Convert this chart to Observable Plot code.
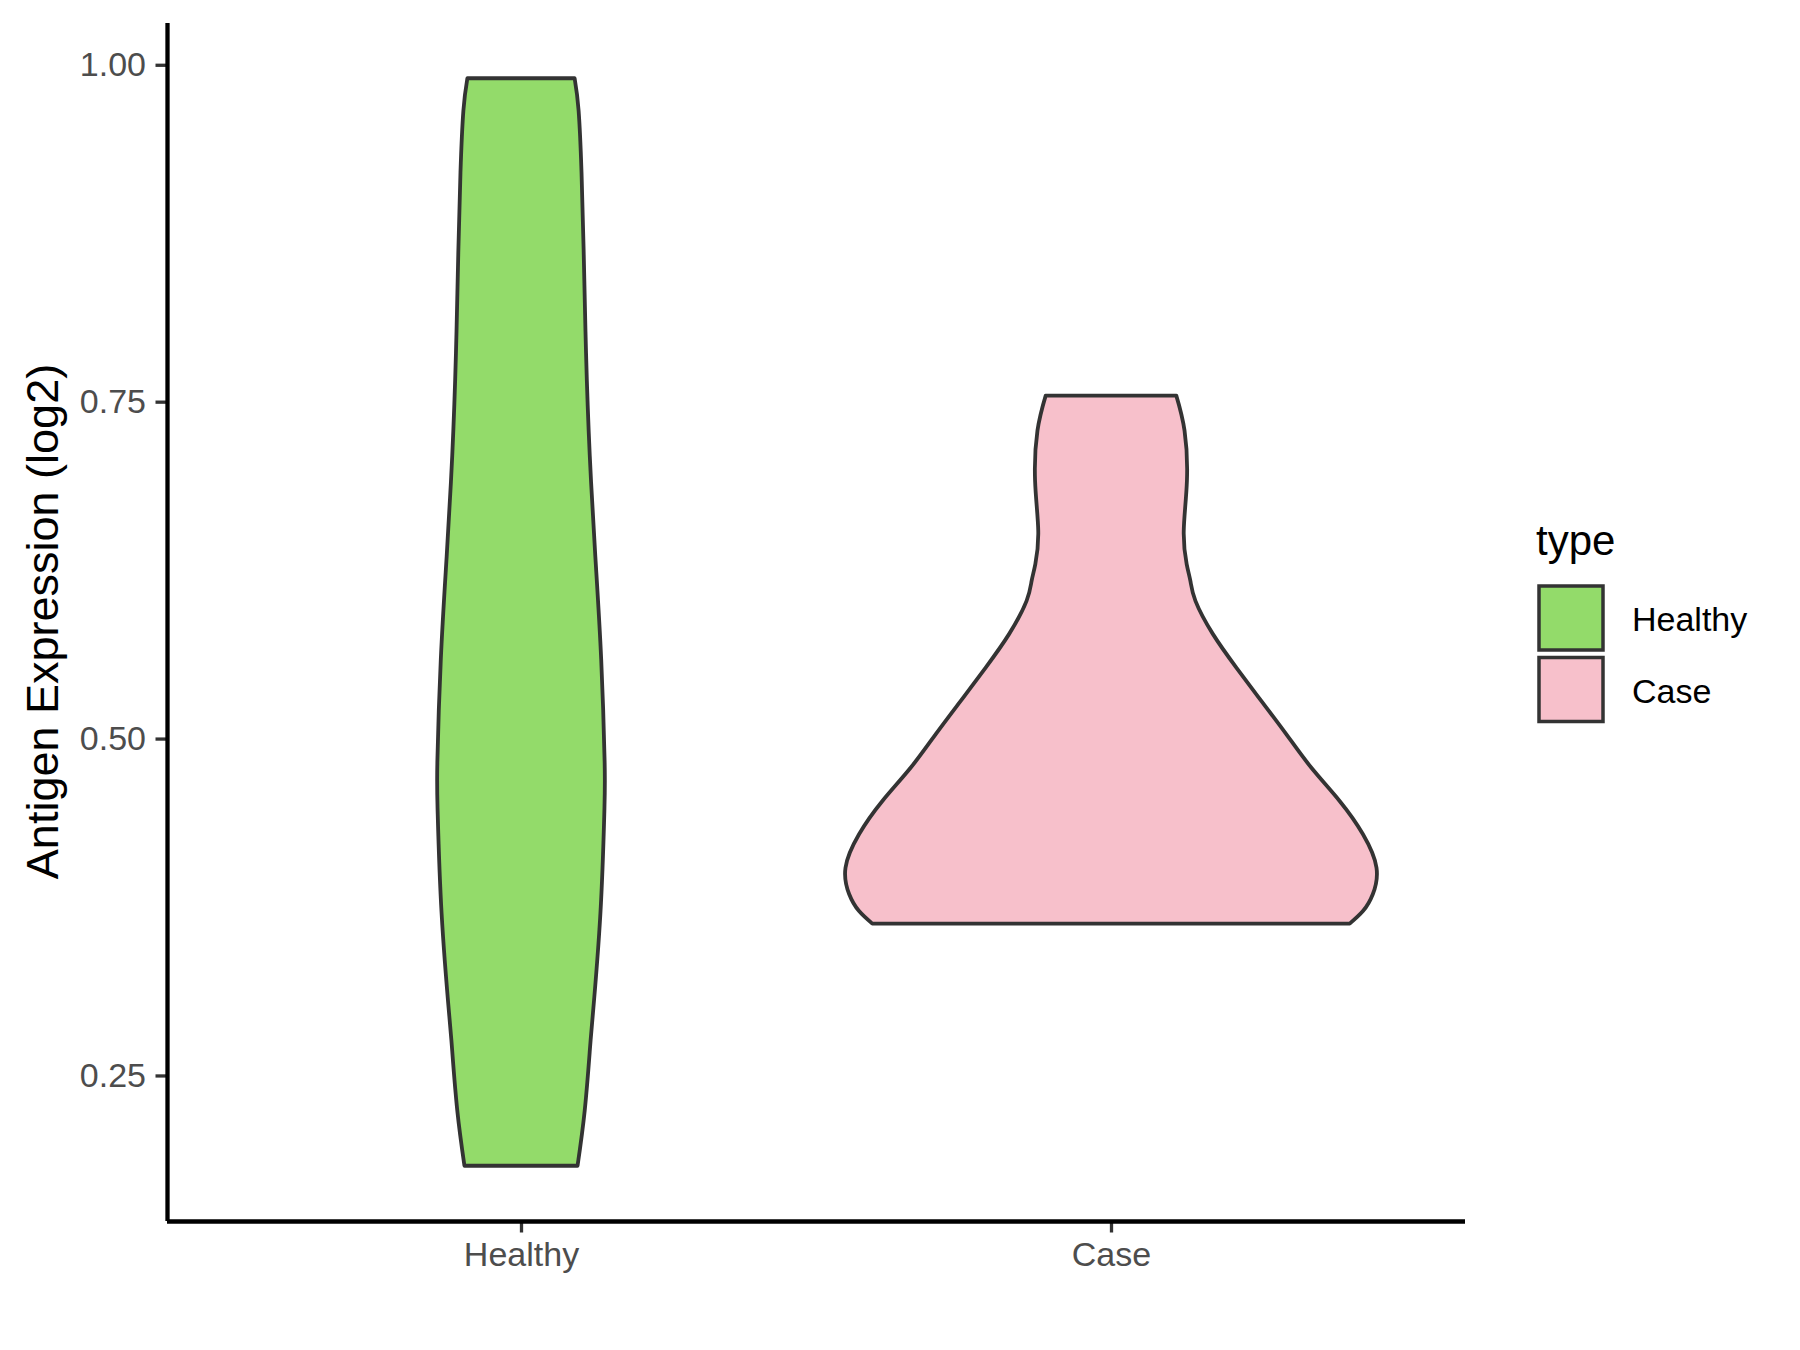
<!DOCTYPE html>
<html><head><meta charset="utf-8">
<script src="https://cdn.jsdelivr.net/npm/d3@7"></script>
<script src="https://cdn.jsdelivr.net/npm/@observablehq/plot@0.6"></script>
<style>body{margin:0;background:#fff;} svg{display:block}</style>
</head><body><div id="chart"></div>
<script>
const categories = ["Healthy", "Case"];
const fillColors = ["#93DB6A", "#F7C0CB"];
const yTicks = [0.25, 0.50, 0.75, 1.00];
const yTitle = "Antigen Expression (log2)";
const legendTitle = "type";

// violin profiles: expression value and relative density (width)
const healthyValues  = [0.183, 0.224, 0.268, 0.294, 0.370, 0.446, 0.483, 0.559, 0.635, 0.710, 0.786, 0.862, 0.920, 0.966, 0.990];
const healthyDensity = [0.213, 0.240, 0.259, 0.270, 0.299, 0.314, 0.315, 0.302, 0.280, 0.259, 0.245, 0.236, 0.228, 0.217, 0.202];
const caseValues  = [0.3627, 0.372, 0.3845, 0.4042, 0.429, 0.4537, 0.4785, 0.5033, 0.528, 0.5527, 0.5775, 0.6022, 0.617, 0.6295, 0.6542, 0.6913, 0.7285, 0.7545];
const caseDensity = [0.899, 0.949, 0.986, 1.000, 0.949, 0.861, 0.754, 0.660, 0.566, 0.472, 0.384, 0.318, 0.299, 0.285, 0.274, 0.286, 0.277, 0.246];

const profiles = [[healthyValues, healthyDensity], [caseValues, caseDensity]];
const rows = [];
categories.forEach((c, i) => {
  const [vals, dens] = profiles[i];
  vals.forEach((v, k) => rows.push({type: c, pos: i + 1, y: v, d: dens[k]}));
});

const font = "'Liberation Sans', Arial, sans-serif";
const halfW = 0.45;

const plot = Plot.plot({
  width: 1800, height: 1350,
  marginLeft: 167, marginRight: 335, marginTop: 23, marginBottom: 129,
  style: {fontFamily: font, background: "#fff", overflow: "visible"},
  x: {domain: [0.4, categories.length + 0.6]},
  y: {domain: [0.142, 1.031]},
  color: {domain: categories, range: fillColors},
  marks: [
    Plot.areaX(rows, {
      y: "y",
      x1: d => d.pos - halfW * d.d,
      x2: d => d.pos + halfW * d.d,
      z: "type", fill: "type", fillOpacity: 1,
      stroke: "#333333", strokeWidth: 3.8, strokeLinejoin: "round", curve: "natural"
    }),
    Plot.axisY({ticks: yTicks, tickFormat: d3.format(".2f"), tickSize: 11.5, tickPadding: 10,
      fontSize: 34, label: null, stroke: "#333333", strokeWidth: 3.3, fill: "#4D4D4D"}),
    Plot.axisX({ticks: categories.map((c, i) => i + 1), tickFormat: v => categories[v - 1],
      tickSize: 11.5, tickPadding: 9, fontSize: 34, label: null, stroke: "#333333", strokeWidth: 3.3, fill: "#4D4D4D"}),
    Plot.ruleX([0.4], {stroke: "black", strokeWidth: 4.3}),
    Plot.ruleY([0.142], {stroke: "black", strokeWidth: 4.3})
  ]
});

const svg = d3.select(plot);
// y-axis title
svg.append("text")
  .attr("transform", "translate(58,621.5) rotate(-90)")
  .attr("text-anchor", "middle")
  .attr("font-family", font).attr("font-size", 45).attr("fill", "black")
  .text(yTitle);

// legend
const color = plot.scale("color");
const lg = svg.append("g").attr("font-family", font).attr("text-anchor", "start");
lg.append("text").attr("x", 1536).attr("y", 555).attr("font-size", 42).attr("fill", "black").text(legendTitle);
categories.forEach((c, i) => {
  const y0 = 584 + 71.5 * i;
  lg.append("rect").attr("x", 1539).attr("y", y0 + 2).attr("width", 64).attr("height", 64)
    .attr("fill", color.apply(c)).attr("stroke", "#333333").attr("stroke-width", 3.5);
  lg.append("text").attr("x", 1632).attr("y", y0 + 47).attr("font-size", 34).attr("fill", "black").text(c);
});

document.getElementById("chart").appendChild(plot);
</script>
</body></html>
